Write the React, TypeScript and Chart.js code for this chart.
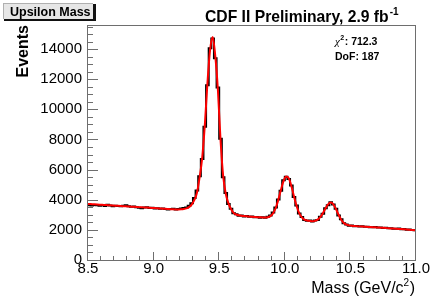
import React, { useEffect, useRef } from "react";
import { Chart, registerables } from "chart.js";

Chart.register(...registerables);

// ---------- data ----------
const MASS_MIN = 8.5;
const MASS_MAX = 11.0;
const BIN_WIDTH = 0.02; // GeV/c^2 per bin

// measured events per bin (black histogram)
const EVENTS: number[] = [
  3640, 3610, 3655, 3630, 3600, 3640, 3590, 3660, 3615, 3575,
  3600, 3585, 3560, 3600, 3640, 3560, 3530, 3555, 3500, 3470,
  3430, 3480, 3500, 3445, 3470, 3420, 3440, 3395, 3420, 3380,
  3360, 3390, 3400, 3345, 3390, 3420, 3460, 3480, 3600, 3760,
  4120, 4620, 5560, 6700, 8850, 11600, 14050, 14700, 13400, 11450,
  8050, 5500, 4450, 3720, 3400, 3100, 3040, 2930, 2950, 2890,
  2920, 2870, 2890, 2840, 2860, 2810, 2840, 2800, 2870, 2960,
  3150, 3480, 4020, 4600, 5300, 5520, 5380, 4950, 4180, 3620,
  3080, 2850, 2650, 2600, 2620, 2560, 2620, 2650, 2870, 3070,
  3440, 3640, 3830, 3680, 3400, 2960, 2700, 2440, 2360, 2280,
  2290, 2240, 2260, 2220, 2235, 2200, 2215, 2180, 2170, 2190,
  2150, 2160, 2120, 2140, 2100, 2115, 2080, 2070, 2085, 2040,
  2050, 2010, 2030, 1990, 1975,
];

// fit curve evaluated at bin centres (red line)
const FIT: number[] = [
  3720, 3708, 3697, 3686, 3675, 3664, 3653, 3642, 3631, 3620,
  3609, 3598, 3587, 3576, 3565, 3554, 3543, 3532, 3521, 3510,
  3499, 3488, 3477, 3466, 3455, 3444, 3433, 3420, 3408, 3396,
  3385, 3374, 3366, 3360, 3358, 3365, 3385, 3425, 3510, 3680,
  3970, 4450, 5450, 6750, 8900, 11700, 13900, 14800, 13550, 11300,
  8000, 5600, 4400, 3780, 3380, 3130, 3020, 2965, 2935, 2915,
  2900, 2882, 2870, 2858, 2846, 2835, 2825, 2822, 2840, 2911,
  3088, 3435, 3976, 4638, 5238, 5546, 5421, 4914, 4224, 3580,
  3107, 2828, 2686, 2621, 2597, 2574, 2597, 2678, 2843, 3103,
  3417, 3690, 3809, 3698, 3383, 3000, 2675, 2461, 2345, 2297,
  2266, 2256, 2244, 2232, 2220, 2208, 2198, 2188, 2178, 2168,
  2158, 2146, 2134, 2122, 2110, 2098, 2086, 2074, 2062, 2050,
  2036, 2022, 2008, 1994, 1980,
];

const X_TICKS: number[] = [8.5, 9.0, 9.5, 10.0, 10.5, 11.0];
const Y_TICKS: number[] = [0, 2000, 4000, 6000, 8000, 10000, 12000, 14000];
const Y_MAX = 15600;

const PAD_TITLE = "Upsilon Mass";
const TITLE = "CDF II Preliminary, 2.9 fb";
const TITLE_SUP = "-1";
const X_TITLE = "Mass (GeV/c";
const X_TITLE_SUP = "2";
const X_TITLE_END = ")";
const Y_TITLE = "Events";
const CHI2 = "712.3";
const DOF = "187";

const FONT = '"Liberation Sans", Arial, Helvetica, sans-serif';

const decorPlugin = {
  id: "decor",
  afterDraw(chart: any) {
    const ctx: CanvasRenderingContext2D = chart.ctx;
    const { left, right, top, bottom } = chart.chartArea;
    const xs = chart.scales.x;
    const ys = chart.scales.y;
    ctx.save();

    // frame
    ctx.strokeStyle = "#6e6e6e";
    ctx.lineWidth = 1;
    ctx.strokeRect(left - 0.5, top + 0.5, right - left, bottom - top);

    // y ticks (inside)
    ctx.beginPath();
    for (let i = 0; i * 500 <= Y_MAX; i++) {
      const v = i * 500;
      const y = Math.round(ys.getPixelForValue(v)) + 0.5;
      const len = i % 4 === 0 ? 10 : 5;
      ctx.moveTo(left, y);
      ctx.lineTo(left + len, y);
    }
    // x ticks (inside)
    for (let i = 0; i <= 25; i++) {
      const v = MASS_MIN + i * 0.1;
      const x = Math.round(xs.getPixelForValue(v)) - 0.5;
      const len = i % 5 === 0 ? 8 : 4;
      ctx.moveTo(x, bottom);
      ctx.lineTo(x, bottom - len);
    }
    ctx.stroke();

    // pad title box
    ctx.fillStyle = "#e6e6e6";
    ctx.fillRect(3, 3, 90, 16);
    ctx.fillStyle = "#b0b0b0";
    ctx.fillRect(3, 3, 90, 1);
    ctx.fillRect(3, 3, 1, 16);
    ctx.fillStyle = "#111";
    ctx.fillRect(93, 4, 3, 17);
    ctx.fillRect(4, 19, 92, 2);
    ctx.fillStyle = "#000";
    ctx.font = `bold 12.5px ${FONT}`;
    ctx.textBaseline = "alphabetic";
    ctx.textAlign = "left";
    ctx.fillText(PAD_TITLE, 10, 16);

    // main title
    ctx.font = `bold 15.7px ${FONT}`;
    ctx.fillText(TITLE, 205, 22);
    const tw = ctx.measureText(TITLE).width;
    ctx.font = `bold 10px ${FONT}`;
    ctx.fillText(TITLE_SUP, 205 + tw + 1, 15);

    // y title
    ctx.save();
    ctx.translate(28, top);
    ctx.rotate(-Math.PI / 2);
    ctx.font = `bold 16px ${FONT}`;
    ctx.textAlign = "right";
    ctx.fillText(Y_TITLE, 0, 0);
    ctx.restore();

    // x title (right aligned to frame edge)
    ctx.textAlign = "left";
    ctx.font = `16px ${FONT}`;
    const wEnd = ctx.measureText(X_TITLE_END).width;
    const wMain = ctx.measureText(X_TITLE).width;
    ctx.font = `10px ${FONT}`;
    const wSup = ctx.measureText(X_TITLE_SUP).width;
    let xr = right - 1 - wEnd;
    ctx.font = `16px ${FONT}`;
    ctx.fillText(X_TITLE_END, xr, 293);
    xr -= wSup + 0.5;
    ctx.font = `10px ${FONT}`;
    ctx.fillText(X_TITLE_SUP, xr, 286);
    xr -= wMain;
    ctx.font = `16px ${FONT}`;
    ctx.fillText(X_TITLE, xr, 293);

    // fit statistics
    let sx = 335;
    ctx.font = `italic 11px "Liberation Serif", "DejaVu Serif", serif`;
    ctx.fillText("\u03c7", sx, 45);
    sx += ctx.measureText("\u03c7").width;
    ctx.font = `bold 7px ${FONT}`;
    ctx.fillText("2", sx + 0.5, 40);
    sx += ctx.measureText("2").width + 1;
    ctx.font = `bold 10.5px ${FONT}`;
    ctx.fillText(": " + CHI2, sx, 45);
    ctx.fillText("DoF: " + DOF, 335, 60);

    ctx.restore();
  },
};

export default function App() {
  const canvasRef = useRef<HTMLCanvasElement | null>(null);

  useEffect(() => {
    const canvas = canvasRef.current;
    if (!canvas) return;

    const histPoints = EVENTS.map((v, i) => ({ x: MASS_MIN + i * BIN_WIDTH, y: v }));
    histPoints.push({ x: MASS_MAX, y: EVENTS[EVENTS.length - 1] });

    const fitPoints = FIT.map((v, i) => ({ x: MASS_MIN + (i + 0.5) * BIN_WIDTH, y: v }));
    fitPoints.unshift({ x: MASS_MIN, y: FIT[0] });
    fitPoints.push({ x: MASS_MAX, y: FIT[FIT.length - 1] });

    const chart = new Chart(canvas, {
      type: "line",
      data: {
        datasets: [
          {
            label: "fit",
            data: fitPoints,
            borderColor: "#ff0000",
            borderWidth: 2,
            pointRadius: 0,
            cubicInterpolationMode: "monotone",
            fill: false,
          },
          {
            label: "data",
            data: histPoints,
            borderColor: "#000000",
            borderWidth: 2,
            pointRadius: 0,
            stepped: "before",
            fill: false,
          },
        ],
      },
      options: {
        animation: false,
        responsive: false,
        maintainAspectRatio: false,
        parsing: false,
        normalized: true,
        events: [],
        layout: { padding: { left: 0, right: 20, top: 25, bottom: 0 } },
        plugins: {
          legend: { display: false },
          title: { display: false },
          tooltip: { enabled: false },
        },
        scales: {
          x: {
            type: "linear",
            min: MASS_MIN,
            max: MASS_MAX,
            grid: { display: false, drawTicks: false },
            border: { display: false },
            afterBuildTicks: (s: any) => {
              s.ticks = X_TICKS.map((v) => ({ value: v }));
            },
            afterFit: (s: any) => {
              s.height = 42;
            },
            ticks: {
              autoSkip: false,
              maxRotation: 0,
              padding: 0,
              color: "#000",
              font: { family: FONT, size: 15 },
              callback: (v: any) => Number(v).toFixed(1),
            },
          },
          y: {
            type: "linear",
            min: 0,
            max: Y_MAX,
            grid: { display: false, drawTicks: false },
            border: { display: false },
            afterBuildTicks: (s: any) => {
              s.ticks = Y_TICKS.map((v) => ({ value: v }));
            },
            afterFit: (s: any) => {
              s.width = 88;
            },
            ticks: {
              autoSkip: false,
              padding: 6,
              color: "#000",
              font: { family: FONT, size: 15 },
              callback: (v: any) => String(v),
            },
          },
        },
      },
      plugins: [decorPlugin],
    });

    return () => chart.destroy();
  }, []);

  return (
    <div style={{ position: "fixed", left: 0, top: 0, width: 436, height: 302, background: "#fff" }}>
      <canvas ref={canvasRef} width={436} height={302} style={{ display: "block" }} />
    </div>
  );
}
